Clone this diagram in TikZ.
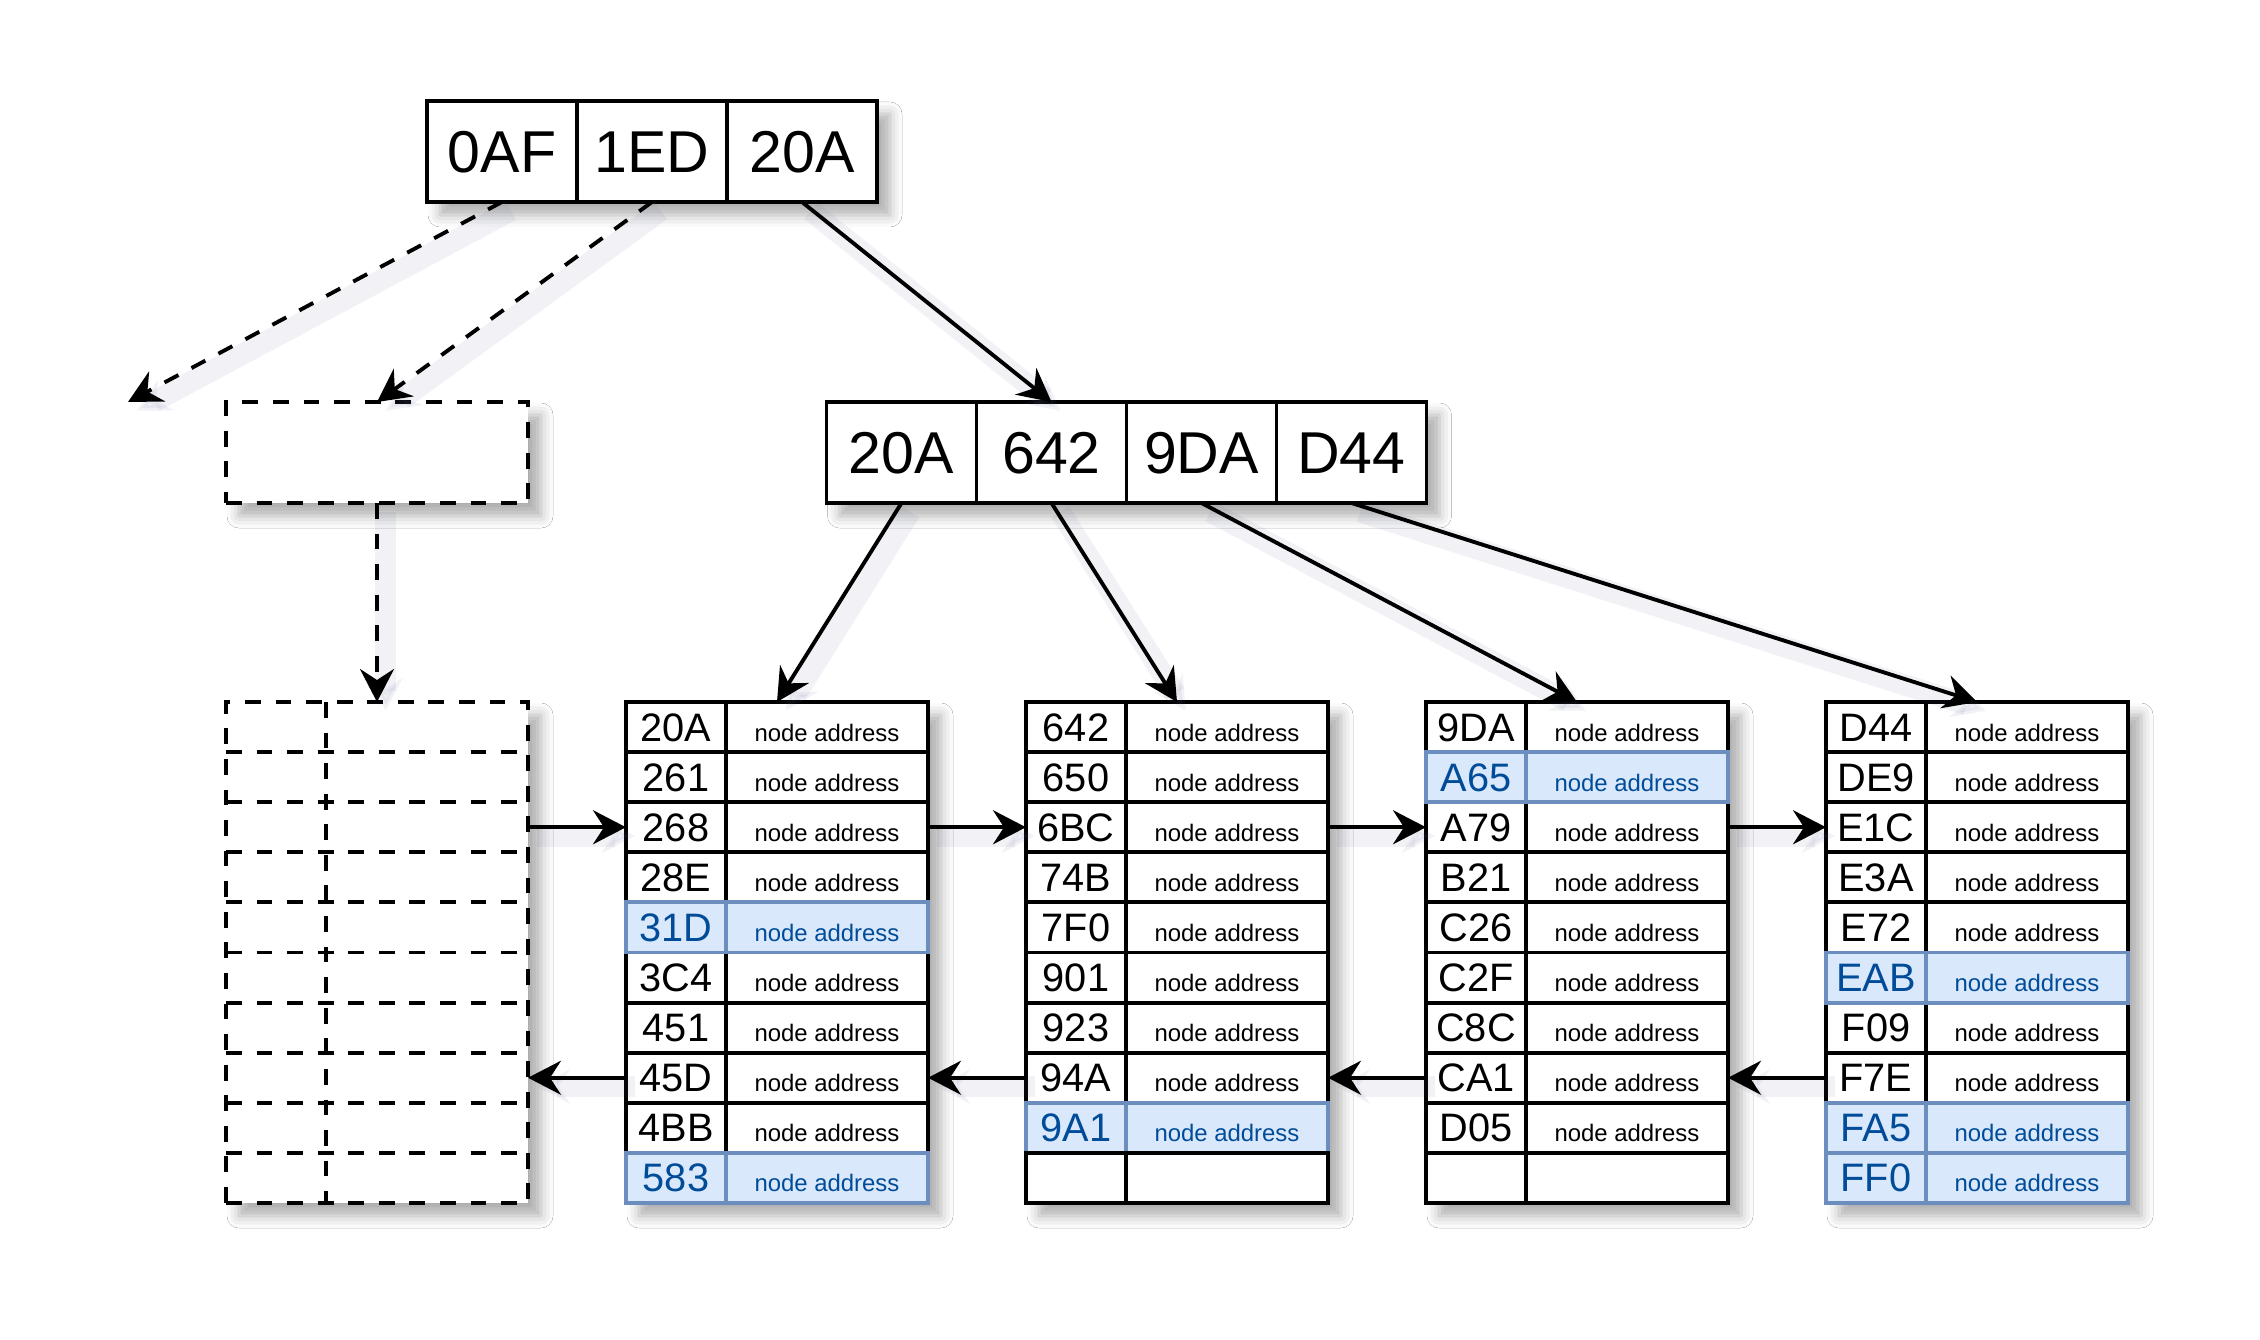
\documentclass[tikz,border=0pt]{standalone}
\usepackage{fontspec}
\setmainfont{Liberation Sans}
\usetikzlibrary{arrows.meta,positioning,shadows.blur}

\definecolor{hlfill}{HTML}{DAE8FC}
\definecolor{hlline}{HTML}{6C8EBF}
\definecolor{hltext}{HTML}{004C99}
\definecolor{shade}{HTML}{5A6496}

\tikzset{
  back/.style={fill=white, inner sep=0pt, outer sep=0pt,
    blur shadow={shadow xshift=1.3mm, shadow yshift=-1.3mm, shadow blur radius=1.2mm, shadow opacity=32}},
  cell/.style={draw, line width=1.1pt, fill=white, inner sep=0pt, outer sep=0pt, text depth=0pt},
  box/.style={cell, minimum width=1.5cm, minimum height=1.01cm, text height=0.43cm, font=\fontsize{16.8}{18}\selectfont},
  keycell/.style={cell, minimum width=1cm, minimum height=0.501cm, text height=0.28cm, font=\fontsize{11.3}{13}\selectfont},
  addrcell/.style={cell, minimum width=2.02cm, minimum height=0.501cm, text height=0.28cm, font=\fontsize{6.8}{8}\selectfont},
  normrow/.style={},
  hlrow/.style={fill=hlfill, draw=hlline, text=hltext},
  dashes/.style={dash pattern=on 4.5pt off 4.2pt},
  dashbox/.style={back, draw, line width=1.1pt, dashes},
  link/.style={line width=1.1pt, -{Stealth[length=3.3mm, width=3.4mm, inset=1.1mm]},
    preaction={draw=shade, opacity=0.08, line width=6pt, solid, transform canvas={xshift=2.5pt, yshift=-2.5pt}}},
}

\begin{document}
\begin{tikzpicture}
  \fill[white] (0,0) rectangle (22.6,-13.4);
  \useasboundingbox (0,0) rectangle (22.6,-13.4);

  % root
  \node[back, minimum width=4.5cm, minimum height=1.01cm] (root) at (6.52,-1.515) {};
  \node[box, anchor=west] (t1) at (root.west) {0AF};
  \node[box, right=0pt of t1] (t2) {1ED};
  \node[box, right=0pt of t2] (t3) {20A};

  % inner node
  \node[back, minimum width=6cm, minimum height=1.01cm] (inner) at (11.265,-4.525) {};
  \node[box, anchor=west] (m1) at (inner.west) {20A};
  \node[box, right=0pt of m1] (m2) {642};
  \node[box, right=0pt of m2] (m3) {9DA};
  \node[box, right=0pt of m3] (m4) {D44};

  % other subtree
  \node[dashbox, minimum width=3.02cm, minimum height=1.01cm] (other) at (3.77,-4.525) {};
  \coordinate (lost) at (1.28,-4.02);

  % leaves
  \node[dashbox, minimum width=3.02cm, minimum height=5.01cm] (leaf0) at (3.77,-9.525) {};
  \foreach \r in {1,...,9}
    \draw[line width=1.1pt, dashes] ([yshift=-\r*0.501cm]leaf0.north west) -- ([yshift=-\r*0.501cm]leaf0.north east);
  \draw[line width=1.1pt, dashes] ([xshift=1cm]leaf0.north west) -- ([xshift=1cm]leaf0.south west);

  \node[back, minimum width=3.02cm, minimum height=5.01cm] (leaf1) at (7.77,-9.525) {};
  \foreach \r/\k/\s in {1/20A/normrow, 2/261/normrow, 3/268/normrow, 4/28E/normrow, 6/3C4/normrow,
      7/451/normrow, 8/45D/normrow, 9/4BB/normrow, 5/31D/hlrow, 10/583/hlrow} {
    \node[keycell, \s, anchor=north west, yshift={-(\r-1)*0.501cm}] (l1k\r) at (leaf1.north west) {\k};
    \node[addrcell, \s, right=0pt of l1k\r] (l1a\r) {node address};
  }

  \node[back, minimum width=3.02cm, minimum height=5.01cm] (leaf2) at (11.77,-9.525) {};
  \foreach \r/\k/\s in {1/642/normrow, 2/650/normrow, 3/6BC/normrow, 4/74B/normrow, 5/7F0/normrow,
      6/901/normrow, 7/923/normrow, 8/94A/normrow, 9/9A1/hlrow} {
    \node[keycell, \s, anchor=north west, yshift={-(\r-1)*0.501cm}] (l2k\r) at (leaf2.north west) {\k};
    \node[addrcell, \s, right=0pt of l2k\r] (l2a\r) {node address};
  }
  \node[keycell, anchor=north west, yshift=-4.509cm] (l2k10) at (leaf2.north west) {};
  \node[addrcell, right=0pt of l2k10] (l2a10) {};

  \node[back, minimum width=3.02cm, minimum height=5.01cm] (leaf3) at (15.77,-9.525) {};
  \foreach \r/\k/\s in {1/9DA/normrow, 3/A79/normrow, 4/B21/normrow, 5/C26/normrow, 6/C2F/normrow,
      7/C8C/normrow, 8/CA1/normrow, 9/D05/normrow, 2/A65/hlrow} {
    \node[keycell, \s, anchor=north west, yshift={-(\r-1)*0.501cm}] (l3k\r) at (leaf3.north west) {\k};
    \node[addrcell, \s, right=0pt of l3k\r] (l3a\r) {node address};
  }
  \node[keycell, anchor=north west, yshift=-4.509cm] (l3k10) at (leaf3.north west) {};
  \node[addrcell, right=0pt of l3k10] (l3a10) {};

  \node[back, minimum width=3.02cm, minimum height=5.01cm] (leaf4) at (19.77,-9.525) {};
  \foreach \r/\k/\s in {1/D44/normrow, 2/DE9/normrow, 3/E1C/normrow, 4/E3A/normrow, 5/E72/normrow,
      7/F09/normrow, 8/F7E/normrow, 6/EAB/hlrow, 9/FA5/hlrow, 10/FF0/hlrow} {
    \node[keycell, \s, anchor=north west, yshift={-(\r-1)*0.501cm}] (l4k\r) at (leaf4.north west) {\k};
    \node[addrcell, \s, right=0pt of l4k\r] (l4a\r) {node address};
  }

  % pointers down the tree
  \draw[link, dashes] (t1.south) -- (lost);
  \draw[link, dashes] (t2.south) -- (other.north);
  \draw[link] (t3.south) -- (m2.north);
  \draw[link, dashes] (other.south) -- (leaf0.north);
  \draw[link] (m1.south) -- (leaf1.north);
  \draw[link] (m2.south) -- (leaf2.north);
  \draw[link] (m3.south) -- (leaf3.north);
  \draw[link] (m4.south) -- (leaf4.north);

  % sibling pointers
  \draw[link] (leaf0.east |- l1k3) -- (l1k3.west);
  \draw[link] (l1a3.east) -- (l2k3.west);
  \draw[link] (l2a3.east) -- (l3k3.west);
  \draw[link] (l3a3.east) -- (l4k3.west);
  \draw[link] (l4k8.west) -- (l3a8.east);
  \draw[link] (l3k8.west) -- (l2a8.east);
  \draw[link] (l2k8.west) -- (l1a8.east);
  \draw[link] (l1k8.west) -- (leaf0.east |- l1k8);
\end{tikzpicture}
\end{document}
